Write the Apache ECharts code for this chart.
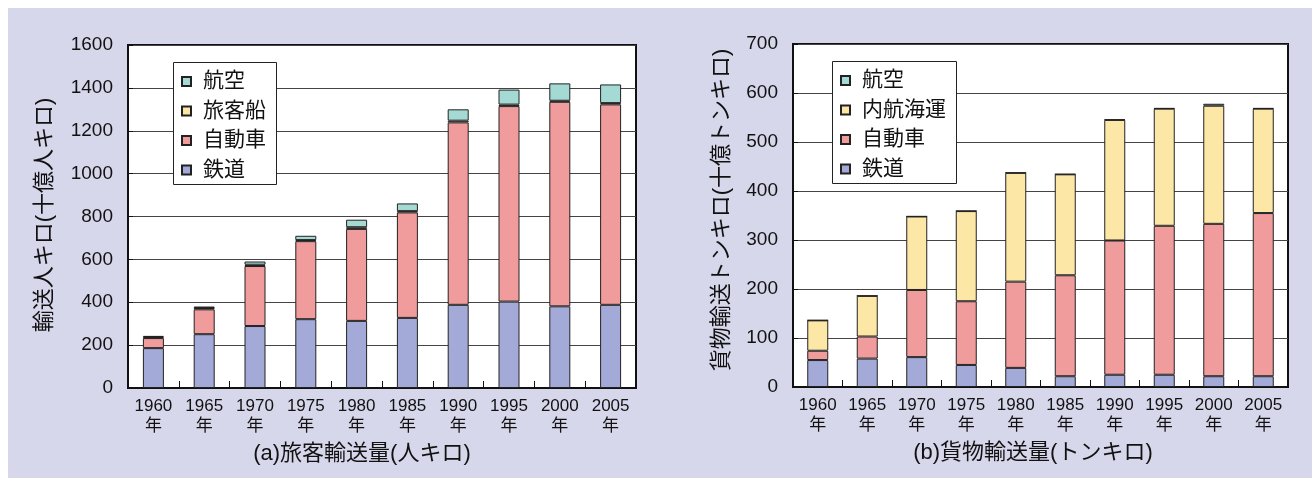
<!DOCTYPE html>
<html>
<head>
<meta charset="utf-8">
<script src="https://cdn.jsdelivr.net/npm/echarts/dist/echarts.min.js"></script>
<style>
  html, body { margin: 0; padding: 0; background: #fff; }
  #wrap { position: relative; width: 1312px; height: 478px; overflow: hidden; }
  #panel { position: absolute; left: 8px; top: 8px; right: 0; bottom: 0; background: #d7d7eb; }
  #chart { position: absolute; left: 0; top: 0; width: 1312px; height: 478px; }
</style>
</head>
<body>
<div id="wrap"><div id="panel"></div><div id="chart"></div></div>
<script>
// Survey years shared by both panels
const years = ['1960', '1965', '1970', '1975', '1980', '1985', '1990', '1995', '2000', '2005'];

// (a) passenger transport, billion person-km
const paxRail = [186, 251, 289, 321, 313, 327, 388, 403, 381, 388];
const paxCar  = [47, 116, 280, 364, 429, 492, 851, 912, 954, 935];
const paxShip = [5, 6, 6, 5, 8, 6, 8, 7, 5, 6];
const paxAir  = [5, 7, 15, 20, 35, 36, 53, 70, 81, 87];

// (b) freight transport, billion ton-km
const frRail  = [55, 58, 61, 45, 39, 22, 25, 25, 22, 22];
const frCar   = [19, 45, 137, 130, 176, 206, 274, 304, 311, 333];
const frShip  = [62, 83, 150, 184, 222, 206, 246, 239, 241, 213];
const frAir   = [0.3, 0.3, 0.3, 0.5, 0.5, 0.5, 1, 1, 4, 1];

const paxLegend = ['航空', '旅客船', '自動車', '鉄道'];
const frLegend  = ['航空', '内航海運', '自動車', '鉄道'];

const FONT = "'Liberation Sans', 'Noto Sans CJK JP', sans-serif";
const C_RAIL = '#a4aad7', C_CAR = '#f09b9c', C_SHIP = '#fde7a6', C_AIR = '#a5dad4';
const INK = '#111';

function bar(name, data, color, idx) {
  return {
    type: 'bar', name: name, data: data, stack: 'total' + idx,
    xAxisIndex: idx, yAxisIndex: idx, barWidth: 21,
    itemStyle: { color: color, borderColor: '#222', borderWidth: 1 },
    emphasis: { disabled: true }
  };
}

function gridBox(left, top, width, height) {
  return {
    left: left, top: top, width: width, height: height,
    show: true, backgroundColor: '#fff', borderColor: INK, borderWidth: 2,
    containLabel: false, outerBoundsMode: 'none'
  };
}

function xAxisFor(idx) {
  return {
    type: 'category', gridIndex: idx, data: years,
    axisLine: { show: true, lineStyle: { color: INK, width: 2 } },
    axisTick: { show: true, inside: true, length: 7, alignWithLabel: false, lineStyle: { color: INK, width: 1 } },
    splitLine: { show: false },
    axisLabel: {
      interval: 0, formatter: function (v) { return v + '\n年'; },
      fontSize: 17, lineHeight: 20, margin: 8, color: INK, fontFamily: FONT
    }
  };
}

function yAxisFor(idx, max, step) {
  return {
    type: 'value', gridIndex: idx, min: 0, max: max, interval: step,
    axisLine: { show: true, lineStyle: { color: INK, width: 2 } },
    axisTick: { show: true, inside: true, length: 5, lineStyle: { color: INK, width: 1 } },
    splitLine: { show: true, lineStyle: { color: '#444', width: 1 } },
    axisLabel: {
      fontSize: 19, margin: 15, color: INK, fontFamily: FONT,
      formatter: function (v) { return String(v); }
    }
  };
}

// Legend entries; the framed white box behind them is drawn as a graphic rect
function legendAt(left, top, data) {
  return {
    data: data, orient: 'vertical', left: left, top: top,
    icon: 'rect', itemWidth: 9, itemHeight: 9, itemGap: 8.5,
    padding: [9, 0, 0, 8],
    backgroundColor: 'transparent', borderWidth: 0,
    selectedMode: false, z: 5,
    textStyle: { fontSize: 21, lineHeight: 21, color: INK, fontFamily: FONT, padding: [0, 0, 0, 7] }
  };
}

function legendFrame(x, y, w, h) {
  return {
    type: 'rect', z: 3, silent: true,
    shape: { x: x + 0.5, y: y + 0.5, width: w, height: h },
    style: { fill: '#fff', stroke: '#222', lineWidth: 1 }
  };
}

function label(text, x, y, rotated) {
  return {
    type: 'text', x: x, y: y, rotation: rotated ? Math.PI / 2 : 0, z: 10,
    style: {
      text: text, fill: INK, font: '22px ' + FONT,
      textAlign: 'center', textVerticalAlign: 'middle',
      align: 'center', verticalAlign: 'middle'
    }
  };
}

const chart = echarts.init(document.getElementById('chart'), null, { renderer: 'canvas' });
chart.setOption({
  animation: false,
  backgroundColor: 'transparent',
  textStyle: { fontFamily: FONT },
  grid: [gridBox(128, 45, 508, 343), gridBox(793, 44, 495, 343)],
  xAxis: [xAxisFor(0), xAxisFor(1)],
  yAxis: [yAxisFor(0, 1600, 200), yAxisFor(1, 700, 100)],
  legend: [legendAt(173, 62, paxLegend), legendAt(832, 61, frLegend)],
  graphic: [
    legendFrame(173, 62, 103, 122),
    legendFrame(832, 61, 124, 122),
    label('輸送人キロ(十億人キロ)', 45, 215, true),
    label('貨物輸送トンキロ(十億トンキロ)', 722, 210, true),
    label('(a)旅客輸送量(人キロ)', 362, 454, false),
    label('(b)貨物輸送量(トンキロ)', 1033, 453, false)
  ],
  series: [
    bar('鉄道', paxRail, C_RAIL, 0),
    bar('自動車', paxCar, C_CAR, 0),
    bar('旅客船', paxShip, C_SHIP, 0),
    bar('航空', paxAir, C_AIR, 0),
    bar('鉄道', frRail, C_RAIL, 1),
    bar('自動車', frCar, C_CAR, 1),
    bar('内航海運', frShip, C_SHIP, 1),
    bar('航空', frAir, C_AIR, 1)
  ]
});
</script>
</body>
</html>
